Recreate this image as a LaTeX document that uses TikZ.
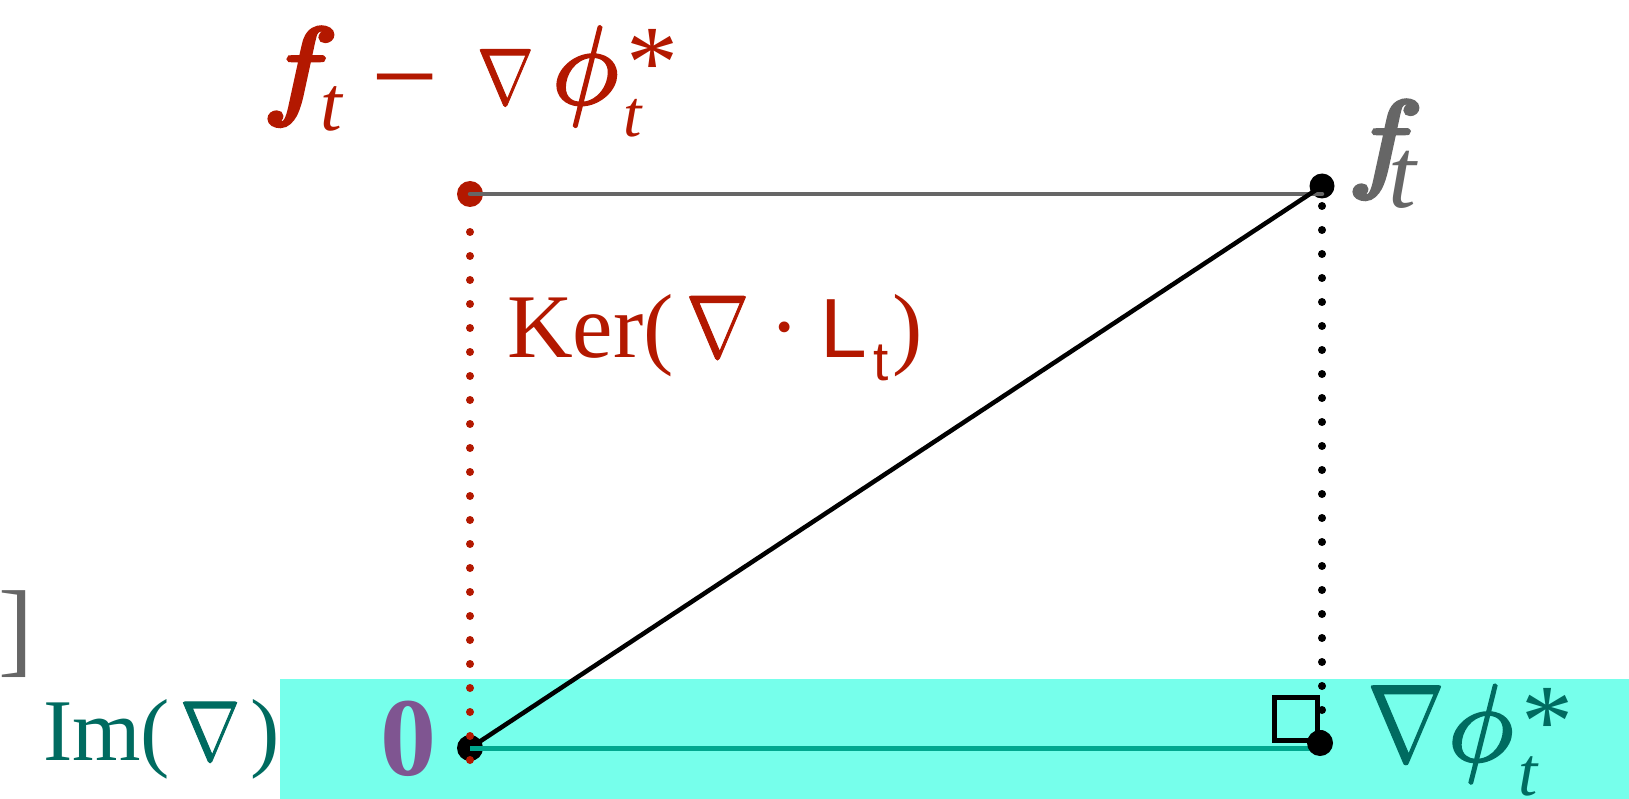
\documentclass[tikz,border=0pt]{standalone}
\usepackage{fontspec}
\setmainfont{Liberation Serif}
\setsansfont{Liberation Sans}
\newfontfamily\lmm{Latin Modern Math}[FakeBold=1.2]
\newfontfamily\lmp{Latin Modern Math}[FakeBold=2]
\newfontfamily\lmf{Latin Modern Math}[FakeBold=3.5]
\newcommand\sz[1]{\fontsize{#1pt}{#1pt}\selectfont}
\newcommand\nab{\scalebox{0.85}[1]{\lmm ∇}}
\newcommand\eff{\scalebox{1.15}[1]{\lmf 𝑓}}
% piece: dx, raise, content
\newcommand\pc[3]{\rlap{\hspace*{#1pt}\raisebox{#2pt}{#3}}}
\definecolor{redc}{RGB}{179,24,0}
\definecolor{grayc}{RGB}{102,102,102}
\definecolor{tealc}{RGB}{0,107,96}
\definecolor{cyanbg}{RGB}{118,255,235}
\definecolor{teall}{RGB}{0,168,143}
\definecolor{purplec}{RGB}{127,85,145}
\begin{document}
\begin{tikzpicture}[x=1pt,y=-1pt,
  lbl/.style={inner sep=0pt, outer sep=0pt, anchor=base west},
  pt/.style={circle, inner sep=0pt, outer sep=0pt, minimum size=26pt, fill=#1},
  reddots/.style={draw=redc, line width=8pt, line cap=round, dash pattern=on 0pt off 24pt},
  blackdots/.style={draw=black, line width=8pt, line cap=round, dash pattern=on 0pt off 24pt},
  edge/.style={line width=4.5pt}]
\useasboundingbox (0,0) rectangle (1629,799);
% band for Im
\fill[cyanbg] (280,679) rectangle (1629,799);
% points
\node[pt=redc] (r) at (470,194) {};
\node[pt=black] (o) at (470,748) {};
\node[pt=black, minimum size=25pt] (f) at (1322,186) {};
% connectors
\draw[edge, draw=grayc, line cap=round] (r.center) -- (r.center -| f.center);
\draw[edge, draw=black] (o.center) -- (f.center);
\node[draw=black, line width=5pt, inner sep=0pt, minimum size=43pt, anchor=south east] (sq) at (1320,743) {};
\draw[line width=5pt, draw=teall] (o.center) -- (1320,748);
\node[pt=black] (g) at (1320,743) {};
% dotted projections
\coordinate (rd1) at (470,232);
\coordinate (rd2) at (470,761);
\coordinate (bd1) at (1322,206);
\coordinate (bd2) at (1322,735);
\draw[reddots] (rd1) -- (rd2);
\draw[blackdots] (bd1) -- (bd2);
% labels
\node[lbl, text=redc] (lr) at (267,104) {\makebox[410pt][l]{%
  \pc{-4}{0}{\sz{109}\eff}%
  \pc{53}{-27}{\sz{78}\itshape t}%
  \pc{104}{-13}{\sz{119}−}%
  \pc{210}{0}{\sz{80}\nab}%
  \pc{285}{0}{\sz{112}\lmp 𝜙}%
  \pc{356}{-33}{\sz{66}\itshape t}%
  \pc{359}{6}{\sz{104}*}}};
\node[lbl, text=grayc] (lf) at (1352,177) {\makebox[80pt][l]{%
  \pc{-4}{0}{\sz{109}\eff}%
  \pc{36}{-31}{\sz{100}\itshape t}}};
\node[lbl, text=redc] (lk) at (507,357) {\makebox[410pt][l]{%
  \pc{0}{0}{\sz{91}Ker(}%
  \pc{179}{0}{\sz{89}\nab}%
  \pc{278}{0}{\sz{91}\makebox[0pt]{·}}%
  \pc{313}{0}{\sz{84}\sffamily L}%
  \pc{366}{-23}{\sz{55}\sffamily t}%
  \pc{385}{0}{\sz{91})}}};
\node[lbl, text=tealc] (li) at (43,760) {\makebox[230pt][l]{%
  \pc{0}{0}{\sz{88}Im(}%
  \pc{137}{0}{\sz{85}\nab}%
  \pc{207}{0}{\sz{88})}}};
\node[lbl, text=purplec] (lz) at (380,775) {\sz{112}\bfseries 0};
\node[lbl, text=tealc] (lg) at (1370,761) {\makebox[200pt][l]{%
  \pc{-3}{0}{\sz{110}\nab}%
  \pc{78}{0}{\sz{110}\lmp 𝜙}%
  \pc{148}{-34}{\sz{69}\itshape t}%
  \pc{151}{5}{\sz{104}*}}};
\node[lbl, text=grayc] (lb) at (-1.5,663) {\sz{105}]};
\end{tikzpicture}
\end{document}
